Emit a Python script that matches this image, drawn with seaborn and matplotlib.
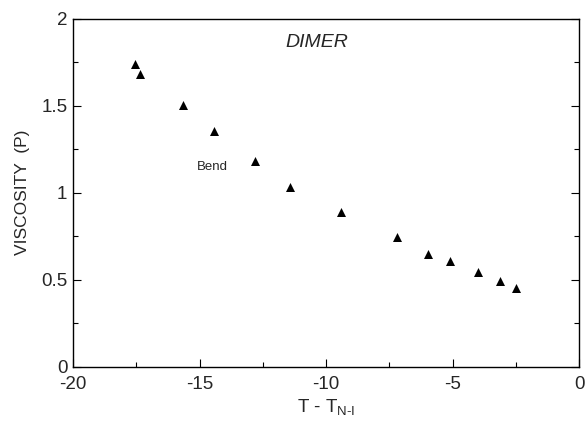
# -*- coding: utf-8 -*-
# Viscosity of the dimer vs reduced temperature
import matplotlib
matplotlib.use("Agg")
import matplotlib.pyplot as plt
from matplotlib.ticker import MultipleLocator
import seaborn as sns
import pandas as pd

# %% data
t_red = [-17.55, -17.35, -15.66, -14.45, -12.83, -11.41, -9.43,
         -7.21, -5.98, -5.10, -3.99, -3.15, -2.49]
viscosity = [1.742, 1.682, 1.502, 1.355, 1.182, 1.034, 0.891,
             0.744, 0.649, 0.606, 0.544, 0.490, 0.455]
data = pd.DataFrame({"dT": t_red, "eta": viscosity})

# %% style
sns.set_style("ticks")
plt.rcParams["font.family"] = ["Liberation Sans", "DejaVu Sans"]
plt.rcParams["mathtext.fontset"] = "custom"
plt.rcParams["mathtext.rm"] = "Liberation Sans"

fig = plt.figure(figsize=(5.87, 4.21), dpi=100)
ax = fig.add_axes([0.1244, 0.129, 0.8626, 0.8266])

sns.scatterplot(data=data, x="dT", y="eta", marker="^", s=42,
                color="black", edgecolor="black", linewidth=0, ax=ax)

ax.set_xlim(-20, 0)
ax.set_ylim(0, 2)
ax.xaxis.set_major_locator(MultipleLocator(5))
ax.xaxis.set_minor_locator(MultipleLocator(2.5))
ax.yaxis.set_major_locator(MultipleLocator(0.5))
ax.yaxis.set_minor_locator(MultipleLocator(0.25))
ax.xaxis.set_major_formatter(plt.FuncFormatter(lambda v, p: "%g" % v))
ax.yaxis.set_major_formatter(plt.FuncFormatter(lambda v, p: "%g" % v))
ax.tick_params(which="both", direction="in", top=False, right=True,
               labelsize=13.5, width=0.8, color="black")
ax.tick_params(axis="x", pad=7)
ax.tick_params(axis="y", pad=4)
ax.tick_params(which="major", length=6)
ax.tick_params(which="minor", length=3.5)
for sp in ax.spines.values():
    sp.set_linewidth(1.0)
    sp.set_color("black")

ax.set_xlabel(r"T - T$_{\mathregular{N\text{-}I}}$", fontsize=13.5,
              labelpad=3)
ax.set_ylabel("VISCOSITY  (P)", fontsize=12.5, labelpad=8)

ax.text(-10.37, 1.862, "DIMER", fontsize=14, style="italic",
        ha="center", va="center")
ax.text(-14.5, 1.148, "Bend", fontsize=9.5, ha="center", va="center")

fig.savefig("out.png", dpi=100)
